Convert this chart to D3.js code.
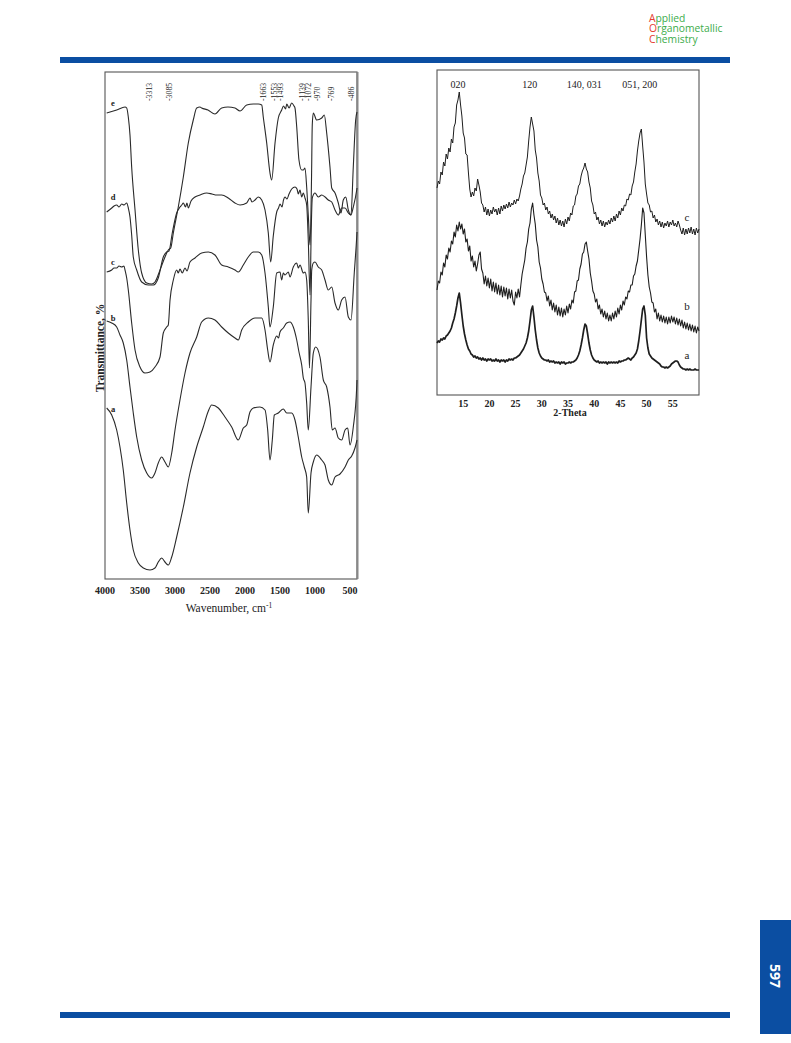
<!DOCTYPE html>
<html><head><meta charset="utf-8">
<script src="https://cdn.jsdelivr.net/npm/d3@7"></script>
<style>body{margin:0;background:#fff}svg{display:block}</style>
</head><body>
<svg id="page" width="791" height="1043"></svg>
<script>
// ---------- IR spectra (wavenumber, transmittance a.u., stacked) ----------
const irTicks = [4000,3500,3000,2500,2000,1500,1000,500];
const irPeakLabels = [3313,3085,1663,1553,1493,1139,1072,970,769,486];
const irSeriesNames = ['a','b','c','d','e'];
const irA = [[3976,171],[3904,164],[3833,149],[3786,132],[3739,109],[3690,76],[3643,49],[3596,29],[3524,16],[3453,11],[3357,9],[3286,11],[3239,17],[3190,21],[3143,17],[3096,14],[3047,22],[2976,42],[2881,72],[2786,106],[2690,132],[2596,152],[2529,167],[2476,174],[2381,171],[2286,162],[2190,152],[2096,139],[2024,151],[1976,154],[1929,167],[1881,171],[1786,172],[1714,169],[1676,149],[1643,119],[1610,139],[1581,164],[1524,166],[1453,170],[1404,166],[1333,166],[1286,159],[1239,142],[1190,122],[1153,112],[1119,102],[1096,66],[1057,106],[1024,117],[976,124],[904,119],[857,114],[810,99],[761,94],[714,102],[643,105],[571,112],[524,119],[476,123],[429,131],[400,139]];
const irB = [[3976,258],[3904,256],[3833,252],[3786,244],[3739,236],[3690,219],[3643,192],[3596,166],[3547,142],[3476,119],[3404,106],[3333,101],[3286,106],[3239,116],[3190,122],[3143,117],[3096,112],[3047,126],[3000,149],[2929,179],[2857,206],[2786,226],[2690,242],[2619,257],[2524,261],[2429,259],[2333,252],[2239,246],[2143,241],[2096,239],[2047,249],[1953,257],[1857,261],[1761,261],[1714,249],[1676,229],[1643,217],[1596,234],[1547,243],[1521,241],[1500,247],[1453,251],[1404,256],[1357,257],[1310,252],[1261,239],[1229,227],[1190,214],[1167,201],[1143,196],[1119,176],[1096,149],[1057,192],[1024,226],[990,232],[929,222],[881,199],[833,192],[786,172],[753,149],[714,151],[667,141],[619,139],[571,149],[533,151],[500,134],[453,152],[404,192],[400,199]];
const irC = [[3976,307],[3904,309],[3871,311],[3833,311],[3800,313],[3761,312],[3729,313],[3714,309],[3690,301],[3667,289],[3619,256],[3571,229],[3500,212],[3429,206],[3357,207],[3286,212],[3214,222],[3167,246],[3119,252],[3096,254],[3071,279],[3024,299],[2976,309],[2953,306],[2929,310],[2896,306],[2857,311],[2829,308],[2786,317],[2714,321],[2619,326],[2524,327],[2429,324],[2333,314],[2239,312],[2143,309],[2096,307],[2024,314],[1953,322],[1881,327],[1810,327],[1761,324],[1714,306],[1667,272],[1643,252],[1596,272],[1547,306],[1500,307],[1476,299],[1453,306],[1429,304],[1381,307],[1357,302],[1310,312],[1261,316],[1239,311],[1214,314],[1167,306],[1143,307],[1119,299],[1096,259],[1079,211],[1057,279],[1047,309],[1024,316],[1000,317],[953,312],[904,309],[857,299],[810,289],[761,292],[714,276],[667,269],[619,279],[571,282],[524,262],[486,259],[439,306],[404,342],[400,347]];
const irD = [[3976,367],[3904,371],[3871,373],[3833,374],[3800,372],[3761,375],[3729,374],[3690,376],[3667,371],[3643,362],[3619,344],[3596,322],[3547,309],[3476,297],[3381,294],[3310,294],[3239,301],[3167,322],[3119,327],[3086,328],[3039,346],[2976,366],[2929,372],[2904,374],[2881,376],[2850,372],[2829,376],[2810,371],[2771,378],[2714,382],[2643,384],[2547,386],[2471,385],[2404,384],[2333,384],[2239,381],[2143,376],[2071,374],[1976,376],[1950,379],[1929,381],[1900,377],[1857,379],[1810,382],[1761,379],[1714,369],[1667,346],[1633,317],[1596,343],[1547,367],[1521,371],[1500,375],[1471,372],[1450,379],[1429,382],[1400,380],[1371,385],[1333,390],[1286,392],[1257,390],[1239,385],[1214,389],[1190,382],[1167,386],[1143,381],[1119,374],[1096,339],[1071,284],[1054,349],[1039,381],[1000,386],[953,382],[904,384],[857,382],[810,379],[761,377],[714,369],[667,364],[619,371],[571,371],[524,366],[486,364],[453,372],[404,389],[400,391]];
const irE = [[3976,466],[3833,469],[3714,472],[3690,471],[3667,462],[3643,444],[3619,412],[3571,369],[3524,329],[3476,306],[3404,296],[3333,295],[3286,297],[3214,309],[3143,322],[3096,329],[3061,331],[3024,346],[2953,372],[2881,402],[2810,436],[2739,459],[2690,471],[2643,472],[2619,471],[2529,469],[2429,465],[2333,471],[2243,472],[2143,471],[2071,468],[1976,474],[1881,475],[1810,475],[1761,474],[1739,462],[1690,436],[1643,406],[1619,399],[1571,436],[1524,461],[1476,469],[1450,473],[1420,470],[1404,475],[1370,471],[1333,476],[1300,473],[1286,471],[1261,452],[1229,419],[1190,409],[1167,409],[1143,411],[1119,392],[1096,364],[1071,334],[1050,399],[1039,454],[1024,466],[976,459],[904,461],[867,464],[833,446],[786,412],[761,391],[714,386],[667,376],[629,366],[596,379],[561,382],[524,369],[486,364],[453,412],[419,459],[400,467]];

// ---------- XRD patterns (2-theta from 10 to 60 every 0.25 deg, intensity a.u.) ----------
const xrdTicks = [15,20,25,30,35,40,45,50,55];
const xrdPeakNames = ['020','120','140, 031','051, 200'];
const xrdPeakPos = [14.0, 27.7, 38.1, 48.7];
const xrdSeriesNames = ['a','b','c'];
const xrdA = [52,54,53,56,55,57,56,59, 60,62,64,67,72,76,82,89, 97,102,92,80,69,61,55,50, 46,44,41,40,38,39,37,38,
  36,37,35,37,35,36,34,36, 35,36,34,35,34,36,34,35, 33,35,34,35,33,35,34,36, 35,36,35,37,37,38,39,40,
  42,44,46,49,52,57,64,74, 85,89,78,65,55,47,42,39, 37,36,35,35,34,35,33,34, 33,34,32,33,32,33,31,33,
  32,33,31,32,32,33,32,33, 33,34,35,37,40,44,50,57, 65,71,69,61,52,45,40,37, 35,34,33,34,32,33,32,33,
  32,33,31,33,32,33,32,33, 32,33,32,34,33,34,34,35, 35,36,37,36,35,37,38,40, 42,46,54,64,75,86,89,80,
  57,47,41,39,37,36,35,34, 33,32,31,29,28,28,27,28, 27,28,29,31,32,33,34,34, 33,30,28,27,26,26,25,26,
  25,26,25,25,25,26,25,25, 25];
const xrdB = [105,114,112,123,120,132,128,140, 136,147,143,154,151,163,158,170, 164,173,166,171,161,166,153,156, 144,149,134,139,128,134,124,131,
  140,143,126,122,111,119,109,117, 107,116,104,113,103,112,101,110, 100,109,98,108,99,107,96,106, 97,105,94,90,103,97,106,98,
  110,121,128,135,147,153,166,172, 186,192,180,171,155,148,133,127, 116,111,103,102,94,99,89,95, 85,92,83,90,80,88,79,87,
  78,86,80,89,82,91,86,95, 92,103,104,114,115,126,131,141, 143,151,153,144,136,122,114,104, 101,93,96,86,90,81,86,78,
  84,76,82,74,80,74,82,76, 84,78,87,81,90,85,94,90, 98,96,104,103,110,110,119,121, 129,134,145,156,170,187,182,160,
  138,120,108,102,93,92,83,86, 76,82,74,80,73,79,72,78, 71,78,72,79,73,78,71,77, 70,76,69,75,67,73,66,72,
  65,71,64,70,63,69,62,68, 64];
const xrdC = [207,214,211,223,220,233,229,241, 236,247,243,256,252,268,272,290, 295,303,290,279,262,257,241,240, 222,206,198,203,199,207,204,216,
  210,203,192,190,183,188,180,186, 179,185,181,188,183,186,180,187, 181,189,184,190,186,191,187,193, 188,192,190,195,191,196,194,199,
  206,211,219,222,230,238,254,268, 278,271,264,245,237,222,214,200, 197,190,192,185,188,181,184,177, 181,175,179,172,177,170,175,169,
  174,168,176,171,178,174,182,180, 189,190,199,201,209,211,219,224, 227,232,226,223,213,207,194,190, 181,183,175,178,171,175,169,174,
  168,173,170,175,171,177,173,179, 174,181,177,184,180,187,184,190, 189,196,195,201,200,209,213,223, 231,244,254,262,266,249,233,211,
  201,192,190,183,184,177,180,173, 176,170,174,168,173,167,172,169, 174,168,173,170,175,169,172,168, 174,170,165,161,167,160,166,161,
  167,162,168,161,166,160,167,162, 166];
const xrdStart = 10, xrdStep = 0.25;

// ---------- page ----------
const svg = d3.select('#page');
const blue = '#0b4ea2';
const serif = "'Liberation Serif','DejaVu Serif',serif";
const sans = "'Open Sans','Noto Sans',sans-serif";

svg.append('rect').attr('x',60).attr('y',57).attr('width',670).attr('height',6).attr('fill',blue);
svg.append('rect').attr('x',60).attr('y',1012).attr('width',670).attr('height',6).attr('fill',blue);
svg.append('rect').attr('x',760).attr('y',920).attr('width',31).attr('height',114).attr('fill',blue);
svg.append('text').attr('transform','translate(770,976) rotate(90)').attr('text-anchor','middle')
  .attr('font-family',sans).attr('font-weight','bold').attr('font-size',14).attr('fill','#fff').text('597');

const logo = ['Applied','Organometallic','Chemistry'];
const logoText = svg.append('text').attr('font-family',sans).attr('font-size',10.3);
logo.forEach((w,i)=>{
  logoText.append('tspan').attr('x',649).attr('y',21.5+i*10.8).attr('fill','#e53a2e').text(w[0]);
  logoText.append('tspan').attr('fill','#3bac4a').text(w.slice(1));
});

// ---------- IR chart ----------
const xIR = d3.scaleLinear().domain([4000,400]).range([105,357]);
const yIR = d3.scaleLinear().domain([0,507]).range([579,72]);
const gIR = svg.append('g');
gIR.append('rect').attr('x',105).attr('y',72).attr('width',252).attr('height',507)
  .attr('fill','none').attr('stroke','#555').attr('stroke-width',1.1);
gIR.append('line').attr('x1',357.5).attr('x2',357.5).attr('y1',72).attr('y2',579)
  .attr('stroke','#888').attr('stroke-width',2);

const irLine = d3.line().x(d=>xIR(d[0])).y(d=>yIR(d[1])).curve(d3.curveMonotoneX);
const irSeries = [irA, irB, irC, irD, irE];
irSeries.forEach(s=>{
  gIR.append('path').datum(s).attr('d',irLine).attr('fill','none')
    .attr('stroke','#2a2a2a').attr('stroke-width',1.1);
});
const irLabelDy = [1, -3, -10, -15, -10];
irSeries.forEach((s,i)=>{
  gIR.append('text').attr('x',113).attr('y',yIR(s[0][1])+irLabelDy[i]+3)
    .attr('text-anchor','middle').attr('font-family',serif).attr('font-size',8.5).attr('font-weight','bold')
    .attr('fill','#222').text(irSeriesNames[i]);
});
const peakNudge = {3313:-4, 1663:-5, 1553:-2, 1139:-3, 1072:-2};
irPeakLabels.forEach(v=>{
  gIR.append('text').attr('transform',`translate(${xIR(v)+(peakNudge[v]||0)+2.7},101) rotate(-90)`)
    .attr('font-family',serif).attr('font-size',7.8).attr('fill','#222').text('-'+v);
});
irTicks.forEach(v=>{
  gIR.append('text').attr('x',xIR(v)).attr('y',594).attr('text-anchor','middle')
    .attr('font-family',serif).attr('font-size',10).attr('font-weight','bold').attr('fill','#222').text(v);
});
const wt = gIR.append('text').attr('x',229).attr('y',612).attr('text-anchor','middle')
  .attr('font-family',serif).attr('font-size',11.5).attr('fill','#222');
wt.append('tspan').text('Wavenumber, cm');
wt.append('tspan').attr('dy',-4).attr('font-size',7.5).text('-1');
gIR.append('text').attr('transform','translate(104,348) rotate(-90)').attr('text-anchor','middle')
  .attr('font-family',serif).attr('font-size',11.5).attr('font-weight','bold').attr('fill','#222').text('Transmittance, %');

// ---------- XRD chart ----------
const xX = d3.scaleLinear().domain([10,60]).range([437,699]);
const yX = d3.scaleLinear().domain([0,325]).range([395,70]);
const gX = svg.append('g');
gX.append('rect').attr('x',437).attr('y',70).attr('width',262).attr('height',325)
  .attr('fill','none').attr('stroke','#555').attr('stroke-width',1.1);
const xrdLine = d3.line().x((d,i)=>xX(xrdStart+i*xrdStep)).y(d=>yX(d));
const xrdSeries = [xrdA, xrdB, xrdC];
const xrdWidth = [1.7, 1.1, 1.0];
xrdSeries.forEach((s,i)=>{
  gX.append('path').datum(s).attr('d',xrdLine).attr('fill','none')
    .attr('stroke','#1e1e1e').attr('stroke-width',xrdWidth[i]).attr('stroke-linejoin','round');
});
const xrdLabelY = [359, 310, 221];
xrdSeries.forEach((s,i)=>{
  gX.append('text').attr('x',687).attr('y',xrdLabelY[i]).attr('text-anchor','middle')
    .attr('font-family',serif).attr('font-size',11).attr('fill','#222').text(xrdSeriesNames[i]);
});
xrdPeakNames.forEach((n,i)=>{
  gX.append('text').attr('x',xX(xrdPeakPos[i])).attr('y',88).attr('text-anchor','middle')
    .attr('font-family',serif).attr('font-size',10).attr('fill','#222').text(n);
});
xrdTicks.forEach(v=>{
  gX.append('text').attr('x',xX(v)).attr('y',407).attr('text-anchor','middle')
    .attr('font-family',serif).attr('font-size',10).attr('font-weight','bold').attr('fill','#222').text(v);
});
gX.append('text').attr('x',570).attr('y',416).attr('text-anchor','middle')
  .attr('font-family',serif).attr('font-size',10).attr('font-weight','bold').attr('fill','#222').text('2-Theta');
</script>
</body></html>
